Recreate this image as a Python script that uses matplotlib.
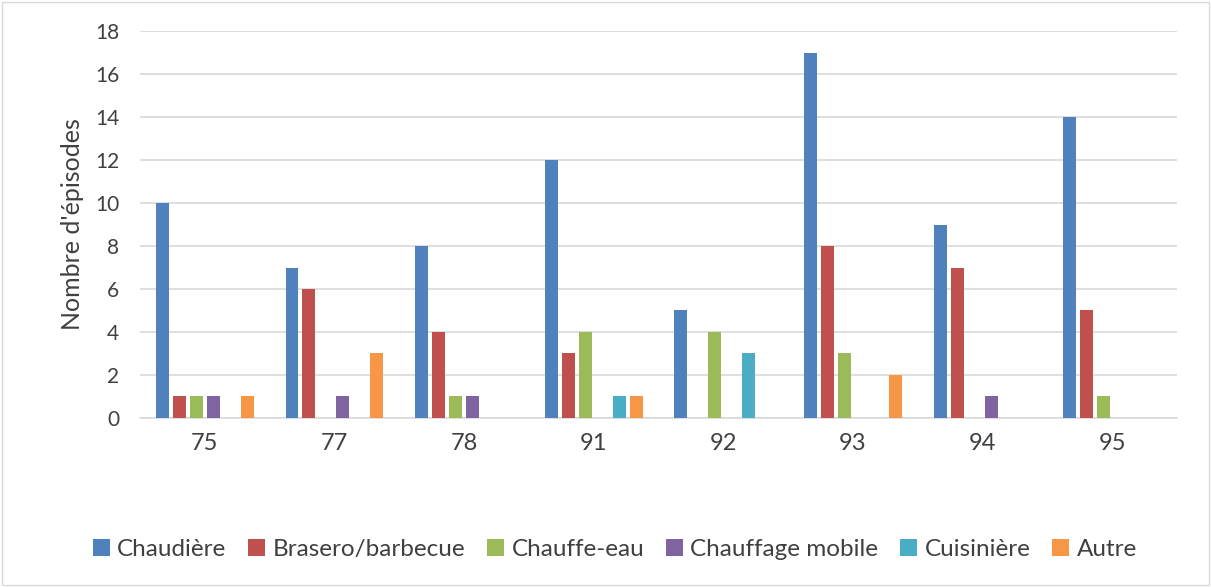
import matplotlib.pyplot as plt
import numpy as np
from matplotlib.patches import Rectangle

plt.rcParams["font.family"] = ["Lato", "DejaVu Sans"]

departements = ["75", "77", "78", "91", "92", "93", "94", "95"]
series = ["Chaudière", "Brasero/barbecue", "Chauffe-eau", "Chauffage mobile", "Cuisinière", "Autre"]
chaudiere = [10, 7, 8, 12, 5, 17, 9, 14]
brasero = [1, 6, 4, 3, 0, 8, 7, 5]
chauffe_eau = [1, 0, 1, 4, 4, 3, 0, 1]
chauffage_mobile = [1, 1, 1, 0, 0, 0, 1, 0]
cuisiniere = [0, 0, 0, 1, 3, 0, 0, 0]
autre = [1, 3, 0, 1, 0, 2, 0, 0]
values = [chaudiere, brasero, chauffe_eau, chauffage_mobile, cuisiniere, autre]
colors = ["#4F81BD", "#C0504D", "#9BBB59", "#8064A2", "#4BACC6", "#F79646"]

fig = plt.figure(figsize=(12.11, 5.87), dpi=100)
ax = fig.add_axes([0.1156, 0.288, 0.8564, 0.659])

x = np.arange(len(departements))
slot = 0.131
bar_w = 0.10
for i, (name, vals, c) in enumerate(zip(series, values, colors)):
    ax.bar(x + (i - 2.5) * slot, vals, width=bar_w, color=c, label=name, zorder=3)

ax.set_xlim(-0.5, len(departements) - 0.5)
ax.set_ylim(0, 18)
ax.set_yticks(range(0, 19, 2))
ax.set_xticks(x)
ax.set_xticklabels(departements)
ax.tick_params(axis="both", length=0, colors="#404040")
ax.tick_params(axis="y", labelsize=15, pad=15)
ax.tick_params(axis="x", labelsize=17, pad=11)
ax.grid(axis="y", color="#D9D9D9", linewidth=1.2, zorder=0)
for s in ["top", "right", "left"]:
    ax.spines[s].set_visible(False)
ax.spines["bottom"].set_color("#D9D9D9")
ax.spines["bottom"].set_linewidth(1.2)
ax.set_ylabel("Nombre d'épisodes", fontsize=18, color="#404040", labelpad=8)

ax.legend(loc="center", bbox_to_anchor=(0.458, -0.34), ncol=6, frameon=False,
          fontsize=17.5, handlelength=0.7, handleheight=0.7, handletextpad=0.3,
          columnspacing=0.9, labelcolor="#404040")

fig.patches.append(Rectangle((0.002, 0.003), 0.996, 0.994, transform=fig.transFigure,
                             fill=False, edgecolor="#D9D9D9", linewidth=1))

fig.savefig("out.png", dpi=100)
